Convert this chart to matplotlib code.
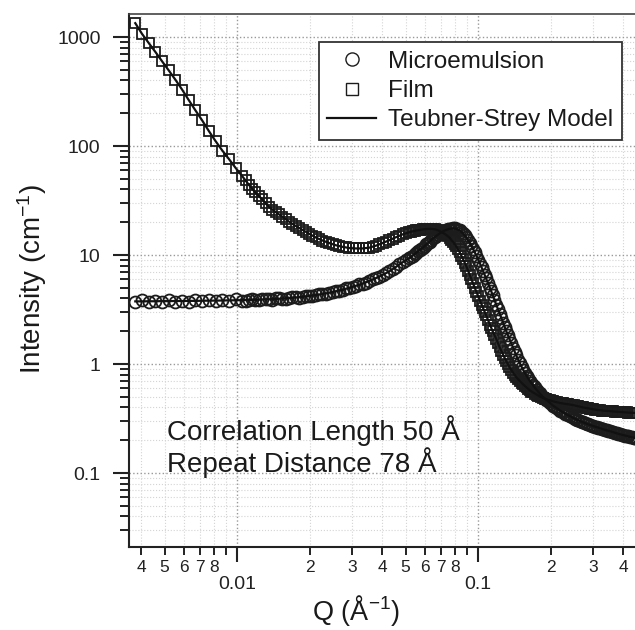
import matplotlib
matplotlib.use("Agg")
import matplotlib.pyplot as plt
from matplotlib.ticker import LogLocator, FuncFormatter, NullFormatter
import numpy as np

plt.rcParams['font.family'] = ['Liberation Sans', 'DejaVu Sans']
plt.rcParams['mathtext.fontset'] = 'custom'
plt.rcParams['mathtext.rm'] = 'Liberation Sans'
plt.rcParams['mathtext.it'] = 'Liberation Sans:italic'
plt.rcParams['mathtext.bf'] = 'Liberation Sans:bold'

# ---------------- data ----------------
q = [0.00378, 0.00403, 0.0043, 0.00458, 0.00488, 0.0052, 0.00555, 0.00591, 0.0063, 0.00672,
     0.00716, 0.00764, 0.00814, 0.00868, 0.00925, 0.00986, 0.0105, 0.0112, 0.0119, 0.0127,
     0.0136, 0.0145, 0.0154, 0.0164, 0.0175, 0.0187, 0.0199, 0.0212, 0.0226, 0.0241,
     0.0257, 0.0274, 0.0292, 0.0311, 0.0332, 0.0354, 0.0377, 0.0402, 0.0429, 0.0457,
     0.0487, 0.0519, 0.0536, 0.0554, 0.0572, 0.059, 0.061, 0.0629, 0.065, 0.0671,
     0.0693, 0.0715, 0.0738, 0.0762, 0.0787, 0.0812, 0.0839, 0.0866, 0.0894, 0.0923,
     0.0953, 0.0984, 0.102, 0.105, 0.108, 0.112, 0.115, 0.119, 0.123, 0.127,
     0.131, 0.135, 0.14, 0.144, 0.149, 0.154, 0.159, 0.164, 0.169, 0.175,
     0.18, 0.186, 0.192, 0.199, 0.205, 0.212, 0.219, 0.226, 0.233, 0.241,
     0.249, 0.257, 0.265, 0.273, 0.282, 0.291, 0.301, 0.311, 0.321, 0.331,
     0.342, 0.353, 0.364, 0.376, 0.388, 0.401, 0.414, 0.428, 0.442, 0.456]

film = [1340, 1070, 880, 730, 600, 495, 405, 330, 264, 212,
        172, 137, 111, 91, 76, 63, 53, 44, 37.5, 32.5,
        27.5, 24.7, 22.5, 20.3, 18.5, 17.0, 15.7, 14.5, 13.6, 12.9,
        12.3, 11.9, 11.6, 11.5, 11.5, 11.7, 12.2, 12.9, 13.7, 14.6,
        15.5, 16.2, 16.5, 16.8, 17.0, 17.2, 17.35, 17.4, 17.35, 17.1,
        16.6, 16.0, 15.3, 14.4, 13.2, 12.0, 10.6, 9.2, 7.9, 6.6,
        5.5, 4.6, 3.8, 3.25, 2.8, 2.3, 2.0, 1.7, 1.42, 1.22,
        1.06, 0.94, 0.83, 0.76, 0.70, 0.65, 0.61, 0.575, 0.55, 0.525,
        0.505, 0.49, 0.475, 0.465, 0.455, 0.447, 0.44, 0.435, 0.43, 0.425,
        0.42, 0.413, 0.407, 0.40, 0.395, 0.39, 0.385, 0.38, 0.377, 0.374,
        0.372, 0.37, 0.368, 0.366, 0.364, 0.362, 0.36, 0.358, 0.357, 0.356]

micro = [3.7, 3.85, 3.68, 3.8, 3.72, 3.86, 3.7, 3.82, 3.74, 3.9,
         3.76, 3.85, 3.78, 3.9, 3.8, 3.92, 3.82, 3.9, 3.86, 3.95,
         3.92, 4.0, 3.98, 4.05, 4.1, 4.15, 4.22, 4.3, 4.4, 4.52,
         4.66, 4.82, 5.0, 5.22, 5.48, 5.8, 6.15, 6.58, 7.1, 7.8,
         8.6, 9.4, 9.9, 10.5, 11.1, 11.7, 12.5, 13.3, 14.2, 15.0,
         15.8, 16.5, 17.0, 17.4, 17.6, 17.4, 16.8, 15.8, 14.5, 13.0,
         11.4, 9.9, 8.3, 7.1, 6.1, 5.0, 4.3, 3.5, 2.9, 2.4,
         2.0, 1.7, 1.4, 1.2, 1.02, 0.88, 0.78, 0.70, 0.64, 0.58,
         0.54, 0.50, 0.47, 0.44, 0.415, 0.395, 0.375, 0.36, 0.345, 0.333,
         0.32, 0.31, 0.30, 0.292, 0.284, 0.277, 0.27, 0.264, 0.258, 0.252,
         0.247, 0.242, 0.237, 0.232, 0.227, 0.223, 0.219, 0.215, 0.212, 0.209]

# second, overlapping set of measured points (Q > 0.01)
q2 = [0.01085, 0.01155, 0.0123, 0.01315, 0.0140, 0.01495, 0.0159, 0.01695, 0.0181, 0.0193,
      0.02055, 0.0219, 0.0233, 0.0249, 0.02655, 0.0283, 0.03015, 0.03215, 0.0343, 0.03655,
      0.0389, 0.04155, 0.0443, 0.0472, 0.0503, 0.0527, 0.0545, 0.0563, 0.0581, 0.06,
      0.0619, 0.0639, 0.066, 0.0682, 0.0704, 0.0726, 0.075, 0.0774, 0.0799, 0.0825,
      0.0852, 0.088, 0.0908, 0.0938, 0.0968, 0.1002, 0.1035, 0.1065, 0.110, 0.1135,
      0.117, 0.121, 0.125, 0.129, 0.133, 0.1375, 0.142, 0.1465, 0.1515, 0.1565,
      0.1615, 0.1665, 0.172, 0.1775, 0.183, 0.189, 0.1955, 0.202, 0.2085, 0.2155,
      0.2225, 0.2295, 0.237, 0.245, 0.253, 0.261, 0.269, 0.2775, 0.2865, 0.296,
      0.306, 0.316, 0.326, 0.3365, 0.3475, 0.3585, 0.37, 0.382, 0.3945, 0.4075,
      0.421, 0.435, 0.449]

film2 = [48.5, 40.5, 35, 30, 26, 23.6, 21.4, 19.4, 17.7, 16.3,
         15.1, 14.0, 13.2, 12.6, 12.1, 11.75, 11.55, 11.5, 11.6, 11.95,
         12.5, 13.3, 14.1, 15.0, 15.9, 16.35, 16.65, 16.9, 17.1, 17.3,
         17.4, 17.4, 17.25, 16.9, 16.3, 15.65, 14.85, 13.8, 12.6, 11.3,
         9.9, 8.5, 7.2, 6.0, 5.0, 4.2, 3.5, 3.0, 2.55, 2.15,
         1.85, 1.55, 1.32, 1.14, 1.0, 0.88, 0.795, 0.73, 0.675, 0.63,
         0.59, 0.56, 0.537, 0.515, 0.497, 0.482, 0.47, 0.46, 0.451, 0.443,
         0.437, 0.432, 0.427, 0.422, 0.416, 0.41, 0.403, 0.397, 0.392, 0.387,
         0.382, 0.378, 0.375, 0.373, 0.371, 0.369, 0.367, 0.365, 0.363, 0.361,
         0.359, 0.357, 0.356]

micro2 = [3.78, 3.95, 3.84, 3.98, 3.9, 4.05, 3.96, 4.12, 4.06, 4.24,
          4.22, 4.4, 4.4, 4.62, 4.7, 4.95, 5.05, 5.4, 5.6, 6.0,
          6.3, 6.85, 7.4, 8.2, 9.0, 9.65, 10.2, 10.8, 11.4, 12.1,
          12.9, 13.75, 14.6, 15.4, 16.15, 16.75, 17.2, 17.5, 17.55, 17.1,
          16.3, 15.15, 13.75, 12.2, 10.65, 9.1, 7.7, 6.6, 5.55, 4.65,
          3.9, 3.2, 2.65, 2.2, 1.85, 1.55, 1.3, 1.1, 0.95, 0.83,
          0.74, 0.67, 0.61, 0.56, 0.52, 0.485, 0.455, 0.428, 0.405, 0.385,
          0.368, 0.352, 0.339, 0.326, 0.315, 0.305, 0.296, 0.288, 0.28, 0.273,
          0.267, 0.261, 0.255, 0.25, 0.244, 0.24, 0.235, 0.23, 0.225, 0.221,
          0.217, 0.214, 0.21]

# Teubner-Strey model curves
model_film = film
model_micro = [3.76, 3.76, 3.77, 3.77, 3.78, 3.78, 3.79, 3.79, 3.8, 3.8,
               3.81, 3.82, 3.82, 3.83, 3.84, 3.85, 3.86, 3.87, 3.89, 3.91,
               3.93, 3.96, 3.99, 4.03, 4.08, 4.14, 4.21, 4.29, 4.39, 4.51,
               4.65, 4.81, 5.0, 5.22, 5.48, 5.8, 6.15, 6.58, 7.1, 7.8,
               8.6, 9.4, 9.9, 10.5, 11.1, 11.7, 12.5, 13.3, 14.2, 15.0,
               15.8, 16.5, 17.0, 17.4, 17.6, 17.4, 16.8, 15.8, 14.5, 13.0,
               11.4, 9.9, 8.3, 7.1, 6.1, 5.0, 4.3, 3.5, 2.9, 2.4,
               2.0, 1.7, 1.4, 1.2, 1.02, 0.88, 0.78, 0.70, 0.64, 0.58,
               0.54, 0.50, 0.47, 0.44, 0.415, 0.395, 0.375, 0.36, 0.345, 0.333,
               0.32, 0.31, 0.30, 0.292, 0.284, 0.277, 0.27, 0.264, 0.258, 0.252,
               0.247, 0.242, 0.237, 0.232, 0.227, 0.223, 0.219, 0.215, 0.212, 0.209]

y_major_labels = {0.1: "0.1", 1: "1", 10: "10", 100: "100", 1000: "1000"}
x_major_labels = {0.01: "0.01", 0.1: "0.1"}
legend_labels = ["Microemulsion", "Film", "Teubner-Strey Model"]
annot_lines = ["Correlation Length 50 Å", "Repeat Distance 78 Å"]

# ---------------- figure ----------------
W, H = 635, 630
fig = plt.figure(figsize=(W / 100, H / 100), dpi=100)
ax = fig.add_axes([129 / W, 1 - 547 / H, 1 - 129 / W, (547 - 14) / H])
ax.set_xscale('log')
ax.set_yscale('log')
ax.set_xlim(0.00356, 0.448)
ax.set_ylim(0.0210, 1626)

mk = dict(ls='none', mfc='none', mec='#1c1c1c', mew=1.3)
h1, = ax.plot(q + q2, micro + micro2, marker='o', ms=8.6, zorder=3, **mk)
h2, = ax.plot(q + q2, film + film2, marker='s', ms=7.9, zorder=3, **mk)
h3, = ax.plot(q, model_film, color='#111111', lw=1.6, zorder=4)
ax.plot(q, model_micro, color='#111111', lw=1.6, zorder=4)

# ticks
ax.xaxis.set_major_locator(LogLocator(base=10, numticks=10))
ax.xaxis.set_minor_locator(LogLocator(base=10, subs=np.arange(2, 10), numticks=20))
ax.yaxis.set_major_locator(LogLocator(base=10, numticks=10))
ax.yaxis.set_minor_locator(LogLocator(base=10, subs=np.arange(2, 10), numticks=20))


def xmaj(v, pos):
    for k, s in x_major_labels.items():
        if abs(v - k) / k < 1e-6:
            return s
    return ""


def xmin(v, pos):
    e = np.floor(np.log10(v) + 1e-9)
    m = int(round(v / 10 ** e))
    return str(m) if 2 <= m <= 8 else ""


def ymaj(v, pos):
    for k, s in y_major_labels.items():
        if abs(v - k) / k < 1e-6:
            return s
    return ""


ax.xaxis.set_major_formatter(FuncFormatter(xmaj))
ax.xaxis.set_minor_formatter(FuncFormatter(xmin))
ax.yaxis.set_major_formatter(FuncFormatter(ymaj))
ax.yaxis.set_minor_formatter(NullFormatter())

ax.tick_params(axis='x', which='major', direction='out', length=11, width=1.5,
               labelsize=14, pad=10, color='#222222', labelcolor='#222222')
ax.tick_params(axis='x', which='minor', direction='out', length=6, width=1.4,
               labelsize=12.5, pad=3, color='#222222', labelcolor='#222222')
ax.tick_params(axis='y', which='major', direction='out', length=11.5, width=1.5,
               labelsize=14, pad=9, color='#222222', labelcolor='#222222')
ax.tick_params(axis='y', which='minor', direction='out', length=6.5, width=1.4,
               color='#222222')

for s in ['left', 'bottom']:
    ax.spines[s].set_linewidth(1.5)
    ax.spines[s].set_color('#222222')
ax.spines['top'].set_linewidth(1.2)
ax.spines['top'].set_color('#444444')
ax.spines['right'].set_visible(False)

ax.grid(True, which='major', ls=':', lw=1.0, color='#999999', zorder=0)
ax.grid(True, which='minor', ls=':', lw=0.8, color='#d4d4d4', zorder=0)
ax.set_axisbelow(True)

leg = ax.legend([h1, h2, h3], legend_labels, loc='upper right',
                bbox_to_anchor=(0.974, 0.947), borderaxespad=0, fontsize=17.5,
                frameon=True, fancybox=False, framealpha=1, edgecolor='#333333',
                handlelength=2.0, handletextpad=0.5, labelspacing=0.3,
                borderpad=0.35, markerscale=1.1)
leg.get_frame().set_linewidth(1.3)
for t in leg.get_texts():
    t.set_color('#1a1a1a')
for lh in leg.legend_handles[:2]:
    lh.set_markeredgewidth(1.0)

ax.text((167 - 129) / 506, (547 - 440) / 533, annot_lines[0], transform=ax.transAxes,
        fontsize=20, va='baseline', ha='left', color='#1a1a1a')
ax.text((167 - 129) / 506, (547 - 472) / 533, annot_lines[1], transform=ax.transAxes,
        fontsize=20, va='baseline', ha='left', color='#1a1a1a')

fig.text(356 / W, 1 - 620 / H, "Q (Å$^{-1}$)", ha='center', va='baseline',
         fontsize=19.5, color='#1a1a1a')
fig.text(32 / W, 1 - 279 / H, "Intensity (cm$^{-1}$)", ha='center', va='center',
         rotation=90, fontsize=20, color='#1a1a1a')

fig.savefig("out.png", dpi=100)
